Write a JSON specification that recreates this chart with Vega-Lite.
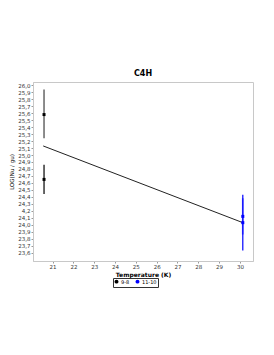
{
  "$schema": "https://vega.github.io/schema/vega-lite/v6.json",
  "autosize": "none",
  "width": 220,
  "height": 179,
  "padding": {"left": 33, "top": 82, "right": 21, "bottom": 94},
  "background": "white",
  "config": {
    "font": "DejaVu Sans",
    "view": {"stroke": "#c8c8c8", "strokeWidth": 1},
    "axis": {"grid": false, "domainColor": "#c8c8c8", "tickColor": "#999999", "tickSize": 2, "labelFontSize": 5.5, "labelColor": "#333333", "titleColor": "#000000", "labelOverlap": false}
  },
  "title": {"text": "C4H", "fontSize": 8, "fontWeight": "bold", "offset": 4, "color": "#000000"},
  "datasets": {
    "obs": [
      {"T": 20.59, "logN": 25.58, "lo": 25.24, "hi": 25.94, "transition": "9-8", "obs": "a"},
      {"T": 20.59, "logN": 24.65, "lo": 24.44, "hi": 24.86, "transition": "9-8", "obs": "b"},
      {"T": 30.14, "logN": 24.12, "lo": 23.86, "hi": 24.38, "transition": "11-10", "obs": "a"},
      {"T": 30.14, "logN": 24.03, "lo": 23.63, "hi": 24.43, "transition": "11-10", "obs": "b"}
    ],
    "fit": [
      {"T": 20.55, "logN": 25.13},
      {"T": 30.14, "logN": 24.03}
    ]
  },
  "encoding": {
    "x": {"field": "T", "type": "quantitative", "scale": {"domain": [20.06, 30.63], "nice": false, "zero": false},
      "axis": {"values": [21, 22, 23, 24, 25, 26, 27, 28, 29, 30], "format": "d", "labelOverlap": false, "labelFlush": false, "title": "Temperature (K)", "titleFontSize": 6, "titleFontWeight": "bold", "titlePadding": 2, "labelPadding": 1}}
  },
  "layer": [
    {
      "data": {"name": "fit"},
      "mark": {"type": "line", "color": "#222222", "strokeWidth": 1},
      "encoding": {
        "y": {"field": "logN", "type": "quantitative", "scale": {"domain": [23.48, 26.047], "nice": false, "zero": false},
          "axis": {"values": [23.6, 23.7, 23.8, 23.9, 24.0, 24.1, 24.2, 24.3, 24.4, 24.5, 24.6, 24.7, 24.8, 24.9, 25.0, 25.1, 25.2, 25.3, 25.4, 25.5, 25.6, 25.7, 25.8, 25.9, 26.0],
            "labelOverlap": false, "labelFlush": false,
            "labelExpr": "abs(datum.value - 24.2) < 0.001 ? '4,2' : replace(format(datum.value, '.1f'), '.', ',')",
            "title": "LOG(Nu / gu)", "titleFontSize": 5.5, "titleFontWeight": "normal", "titlePadding": 3, "labelPadding": 1}}
      }
    },
    {
      "data": {"name": "obs"},
      "mark": {"type": "rule"},
      "encoding": {
        "y": {"field": "lo", "type": "quantitative", "scale": {"domain": [23.48, 26.047], "nice": false, "zero": false},
          "axis": {"values": [23.6, 23.7, 23.8, 23.9, 24.0, 24.1, 24.2, 24.3, 24.4, 24.5, 24.6, 24.7, 24.8, 24.9, 25.0, 25.1, 25.2, 25.3, 25.4, 25.5, 25.6, 25.7, 25.8, 25.9, 26.0],
            "labelOverlap": false, "labelFlush": false,
            "labelExpr": "abs(datum.value - 24.2) < 0.001 ? '4,2' : replace(format(datum.value, '.1f'), '.', ',')",
            "title": "LOG(Nu / gu)", "titleFontSize": 5.5, "titleFontWeight": "normal", "titlePadding": 3, "labelPadding": 1}},
        "y2": {"field": "hi"},
        "color": {"field": "transition", "type": "nominal", "scale": {"domain": ["9-8", "11-10"], "range": ["#000000", "#0000ff"]}},
        "strokeWidth": {"field": "obs", "type": "nominal", "scale": {"domain": ["a", "b"], "range": [1.8, 1.2]}, "legend": null},
        "strokeOpacity": {"field": "obs", "type": "nominal", "scale": {"domain": ["a", "b"], "range": [0.5, 1]}, "legend": null}
      }
    },
    {
      "data": {"name": "obs"},
      "mark": {"type": "point", "shape": "square", "filled": true, "size": 9, "opacity": 1},
      "encoding": {
        "y": {"field": "logN", "type": "quantitative", "scale": {"domain": [23.48, 26.047], "nice": false, "zero": false},
          "axis": {"values": [23.6, 23.7, 23.8, 23.9, 24.0, 24.1, 24.2, 24.3, 24.4, 24.5, 24.6, 24.7, 24.8, 24.9, 25.0, 25.1, 25.2, 25.3, 25.4, 25.5, 25.6, 25.7, 25.8, 25.9, 26.0],
            "labelOverlap": false, "labelFlush": false,
            "labelExpr": "abs(datum.value - 24.2) < 0.001 ? '4,2' : replace(format(datum.value, '.1f'), '.', ',')",
            "title": "LOG(Nu / gu)", "titleFontSize": 5.5, "titleFontWeight": "normal", "titlePadding": 3, "labelPadding": 1}},
        "color": {"field": "transition", "type": "nominal", "scale": {"domain": ["9-8", "11-10"], "range": ["#000000", "#0000ff"]},
          "legend": {"title": null, "orient": "none", "legendX": 80, "legendY": 196, "direction": "horizontal", "symbolType": "circle", "symbolSize": 6, "labelFontSize": 5, "strokeColor": "#333333", "padding": 1, "columnPadding": 3, "labelOffset": 2}}
      }
    }
  ]
}
